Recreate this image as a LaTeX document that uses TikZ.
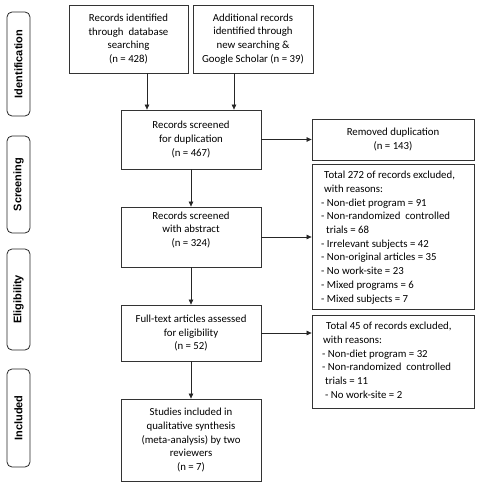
\documentclass[tikz,border=0pt]{standalone}
\usepackage{fontspec}
\setmainfont{Carlito}
\newfontfamily\labfont{Liberation Sans}
\usetikzlibrary{arrows.meta}
\begin{document}
\begin{tikzpicture}[x=1pt,y=-1pt,
  box/.style={draw=black!80,line width=0.8pt,inner sep=0pt,align=center,
    font=\fontsize{10.8}{13.7}\selectfont},
  side/.style={draw=black!85,line width=0.8pt,rounded corners=5pt,minimum height=23pt,
    inner sep=0pt,font=\labfont\bfseries\fontsize{11}{13}\selectfont,rotate=90},
  txt/.style={inner sep=0pt,align=left,anchor=north west,
    font=\fontsize{10.8}{13.7}\selectfont},
  arr/.style={draw=black!85,line width=0.7pt,-{Triangle[length=5pt,width=4.5pt]}}]
\useasboundingbox (0,0) rectangle (481,484);
% side labels
\node[side,minimum width=104pt] (sid) at (18.5,64) {Identification};
\node[side,minimum width=97pt] (sscr) at (18.5,184.5) {Screening};
\node[side,minimum width=101pt] (selg) at (18.5,299.5) {Eligibility};
\node[side,minimum width=98pt] (sinc) at (18.5,418) {Included};
% main boxes
\node[box,minimum width=119pt,minimum height=68pt] (b1) at (128.5,39)
  {Records identified\\through\ \ database\\searching\\(n = 428)};
\node[box,minimum width=120pt,minimum height=68pt] (b2) at (253,39)
  {Additional records\\identified through\\new searching \&\\Google Scholar (n = 39)};
\node[box,minimum width=140pt,minimum height=59pt] (b3) at (191,139.5)
  {Records screened\\for duplication\\(n = 467)};
\node[box,minimum width=140pt,minimum height=60pt] (b4) at (191,237)
  {Records screened\\with abstract\\(n = 324)\\[2pt]};
\node[box,minimum width=140pt,minimum height=56pt] (b5) at (191,333)
  {Full-text articles assessed\\for eligibility\\(n = 52)};
\node[box,minimum width=140pt,minimum height=82pt] (b6) at (191,440)
  {Studies included in\\qualitative synthesis\\(meta-analysis) by two\\reviewers\\(n = 7)};
% right boxes
\node[box,minimum width=162pt,minimum height=41pt] (r1) at (393,139.5)
  {Removed duplication\\(n = 143)};
\node[box,minimum width=162pt,minimum height=145pt] (r2) at (393,236.5) {};
\node[box,minimum width=162pt,minimum height=93pt] (r3) at (393,361.5) {};
\node[txt] (t2) at (321,171)
  {\hspace*{3pt}Total 272 of records excluded,\\
   \hspace*{3pt}with reasons:\\
   - Non-diet program = 91\\
   - Non-randomized\ \ controlled\\
   \hspace*{5pt}trials = 68\\
   - Irrelevant subjects = 42\\
   - Non-original articles = 35\\
   - No work-site = 23\\
   - Mixed programs = 6\\
   - Mixed subjects = 7};
\node[txt] (t3) at (322,322)
  {\hspace*{4pt}Total 45 of records excluded,\\
   \hspace*{1pt}with reasons:\\
   - Non-diet program = 32\\
   - Non-randomized\ \ controlled\\
   \hspace*{3pt}trials = 11\\
   \hspace*{3pt}- No work-site = 2};
% arrows
\draw[arr] ([xshift=18.5pt]b1.south) -- ([xshift=18.5pt]b1.south |- b3.north);
\draw[arr] ([xshift=-19pt]b2.south) -- ([xshift=-19pt]b2.south |- b3.north);
\draw[arr] (b3) -- (b4);
\draw[arr] (b4) -- (b5);
\draw[arr] (b5) -- (b6);
\draw[arr] (b3.east) -- (b3.east -| r1.west);
\draw[arr] (b4.east) -- (b4.east -| r2.west);
\draw[arr] (b5.east) -- (b5.east -| r3.west);
\end{tikzpicture}
\end{document}
